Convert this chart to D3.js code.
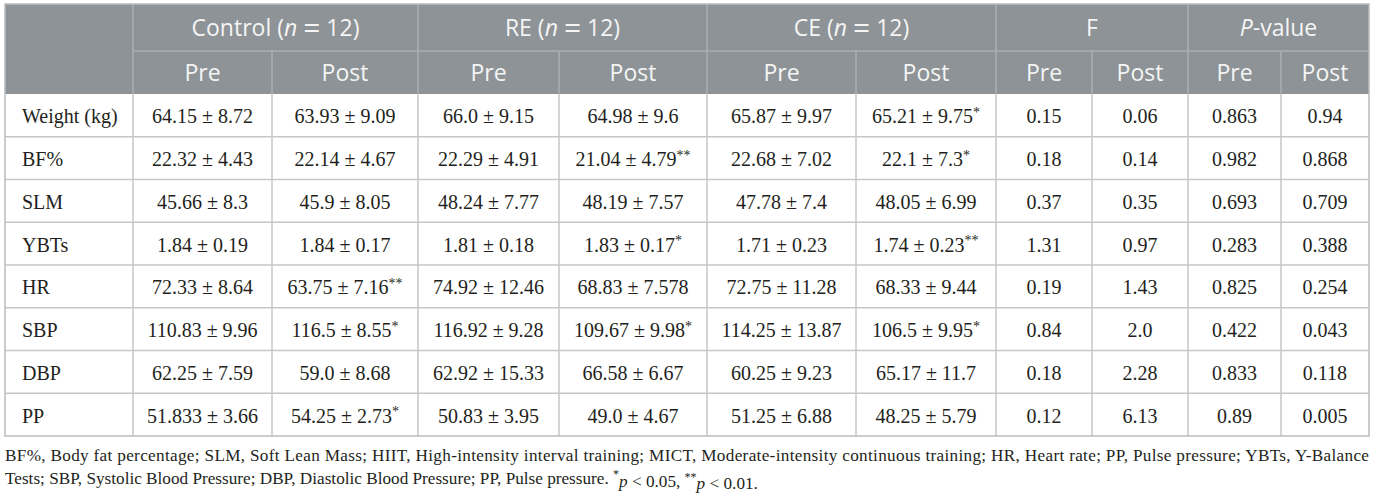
<!DOCTYPE html>
<html>
<head>
<meta charset="utf-8">
<script src="https://cdn.jsdelivr.net/npm/d3@7.9.0/dist/d3.min.js"></script>
<style>
  body { margin: 0; background: #fff; }
  svg { display: block; }
</style>
</head>
<body>
<div id="table"></div>
<script>
// --- Data ---
const rowLabels = ["Weight (kg)", "BF%", "SLM", "YBTs", "HR", "SBP", "DBP", "PP"];

const groups = [
  { label: "Control", n: 12 },
  { label: "RE", n: 12 },
  { label: "CE", n: 12 },
  { label: "F" },
  { label: "P-value" }
];
const subLabels = ["Pre", "Post"];

const controlPre  = ["64.15 ± 8.72", "22.32 ± 4.43", "45.66 ± 8.3", "1.84 ± 0.19", "72.33 ± 8.64", "110.83 ± 9.96", "62.25 ± 7.59", "51.833 ± 3.66"];
const controlPost = ["63.93 ± 9.09", "22.14 ± 4.67", "45.9 ± 8.05", "1.84 ± 0.17", "63.75 ± 7.16**", "116.5 ± 8.55*", "59.0 ± 8.68", "54.25 ± 2.73*"];
const rePre       = ["66.0 ± 9.15", "22.29 ± 4.91", "48.24 ± 7.77", "1.81 ± 0.18", "74.92 ± 12.46", "116.92 ± 9.28", "62.92 ± 15.33", "50.83 ± 3.95"];
const rePost      = ["64.98 ± 9.6", "21.04 ± 4.79**", "48.19 ± 7.57", "1.83 ± 0.17*", "68.83 ± 7.578", "109.67 ± 9.98*", "66.58 ± 6.67", "49.0 ± 4.67"];
const cePre       = ["65.87 ± 9.97", "22.68 ± 7.02", "47.78 ± 7.4", "1.71 ± 0.23", "72.75 ± 11.28", "114.25 ± 13.87", "60.25 ± 9.23", "51.25 ± 6.88"];
const cePost      = ["65.21 ± 9.75*", "22.1 ± 7.3*", "48.05 ± 6.99", "1.74 ± 0.23**", "68.33 ± 9.44", "106.5 ± 9.95*", "65.17 ± 11.7", "48.25 ± 5.79"];
const fPre        = ["0.15", "0.18", "0.37", "1.31", "0.19", "0.84", "0.18", "0.12"];
const fPost       = ["0.06", "0.14", "0.35", "0.97", "1.43", "2.0", "2.28", "6.13"];
const pPre        = ["0.863", "0.982", "0.693", "0.283", "0.825", "0.422", "0.833", "0.89"];
const pPost       = ["0.94", "0.868", "0.709", "0.388", "0.254", "0.043", "0.118", "0.005"];

const columns = [controlPre, controlPost, rePre, rePost, cePre, cePost, fPre, fPost, pPre, pPost];

const footLine1 = "BF%, Body fat percentage; SLM, Soft Lean Mass; HIIT, High-intensity interval training; MICT, Moderate-intensity continuous training; HR, Heart rate; PP, Pulse pressure; YBTs, Y-Balance";
const footLine2 = "Tests; SBP, Systolic Blood Pressure; DBP, Diastolic Blood Pressure; PP, Pulse pressure.";

// --- Layout ---
const W = 1375, H = 494;
const colWidths = [128, 139, 146, 141, 148, 149, 140, 96, 96, 93, 88];
const X0 = 5, Y0 = 4;
const headRow1 = 47, headRow2 = 43;
const bodyTop = Y0 + headRow1 + headRow2;
const bodyBottom = 436;

const HEAD_BG = "#8d9396";
const HEAD_LINE = "#abb0b2";
const BODY_LINE = "#c6c6c6";
const TEXT = "#231f20";
const HEAD_FONT = "'Open Sans', 'Noto Sans', sans-serif";
const BODY_FONT = "'Liberation Serif', 'Times New Roman', serif";

const edges = d3.cumsum([X0, ...colWidths]);
const X1 = edges[edges.length - 1];

const y = d3.scaleBand().domain(rowLabels).range([bodyTop, bodyBottom]);

const svg = d3.select("#table").append("svg").attr("width", W).attr("height", H);

// header background
svg.append("rect")
  .attr("x", X0).attr("y", Y0)
  .attr("width", X1 - X0).attr("height", headRow1 + headRow2)
  .attr("fill", HEAD_BG);

// header lines
const groupEdges = [1, 3, 5, 7, 9].map(i => edges[i]);
const subEdges = [2, 4, 6, 8, 10].map(i => edges[i]);
svg.append("g").selectAll("line").data(groupEdges).join("line")
  .attr("x1", d => d).attr("x2", d => d)
  .attr("y1", Y0).attr("y2", bodyTop)
  .attr("stroke", HEAD_LINE).attr("stroke-width", 1.5);
svg.append("g").selectAll("line").data(subEdges).join("line")
  .attr("x1", d => d).attr("x2", d => d)
  .attr("y1", Y0 + headRow1).attr("y2", bodyTop)
  .attr("stroke", HEAD_LINE).attr("stroke-width", 1.5);
svg.append("line")
  .attr("x1", edges[1]).attr("x2", X1)
  .attr("y1", Y0 + headRow1).attr("y2", Y0 + headRow1)
  .attr("stroke", HEAD_LINE).attr("stroke-width", 1.5);

// header group labels
const g1 = svg.append("g")
  .attr("font-family", HEAD_FONT).attr("font-size", 23).attr("fill", "#f5f5f5")
  .attr("text-anchor", "middle");
groups.forEach((g, i) => {
  const cx = (edges[1 + i * 2] + edges[3 + i * 2]) / 2;
  const t = g1.append("text").attr("x", cx).attr("y", Y0 + headRow1 / 2).attr("dy", "0.36em");
  if (g.n !== undefined) {
    t.append("tspan").text(g.label + " (");
    t.append("tspan").attr("font-style", "italic").text("n");
    t.append("tspan").text(" ");
    // wide math-style equals sign
    t.append("tspan").attr("font-size", 30).attr("dy", 2.5).text("=");
    t.append("tspan").attr("dy", -2.5).text(" " + g.n + ")");
  } else if (g.label === "P-value") {
    t.append("tspan").attr("font-style", "italic").text("P");
    t.append("tspan").text("-value");
  } else {
    t.text(g.label);
  }
});
// header sub labels
const subs = d3.range(10).map(i => ({ i, label: subLabels[i % 2] }));
g1.selectAll("text.sub").data(subs).join("text")
  .attr("class", "sub")
  .attr("x", d => (edges[d.i + 1] + edges[d.i + 2]) / 2)
  .attr("y", Y0 + headRow1 + headRow2 / 2)
  .attr("dy", "0.36em")
  .text(d => d.label);

// body lines
svg.append("g").selectAll("line").data(rowLabels.slice(1)).join("line")
  .attr("x1", X0).attr("x2", X1)
  .attr("y1", d => y(d)).attr("y2", d => y(d))
  .attr("stroke", BODY_LINE).attr("stroke-width", 1.5);
svg.append("g").selectAll("line").data(edges.slice(1, -1)).join("line")
  .attr("x1", d => d).attr("x2", d => d)
  .attr("y1", bodyTop).attr("y2", bodyBottom)
  .attr("stroke", BODY_LINE).attr("stroke-width", 1.5);
// outer border
svg.append("rect")
  .attr("x", X0).attr("y", Y0)
  .attr("width", X1 - X0).attr("height", bodyBottom - Y0)
  .attr("fill", "none").attr("stroke", "#b9bcbe").attr("stroke-width", 1.5);

// body text
const body = svg.append("g")
  .attr("font-family", BODY_FONT).attr("font-size", 20).attr("fill", TEXT);

body.selectAll("text.label").data(rowLabels).join("text")
  .attr("class", "label")
  .attr("x", X0 + 17)
  .attr("y", d => y(d) + y.bandwidth() / 2)
  .attr("dy", "0.4em")
  .text(d => d);

const cells = columns.flatMap((col, ci) => col.map((v, ri) => ({ ci, ri, v })));
const cellText = body.selectAll("text.cell").data(cells).join("text")
  .attr("class", "cell")
  .attr("text-anchor", "middle")
  .attr("x", d => (edges[d.ci + 1] + edges[d.ci + 2]) / 2)
  .attr("y", d => y(rowLabels[d.ri]) + y.bandwidth() / 2)
  .attr("dy", "0.4em");
cellText.each(function (d) {
  const m = d.v.match(/^(.*?)(\**)$/);
  const t = d3.select(this);
  t.append("tspan").text(m[1]);
  if (m[2]) {
    t.append("tspan").attr("font-size", 14).attr("dy", "-0.45em").text(m[2]);
  }
});

// footnote
const foot = svg.append("g")
  .attr("font-family", BODY_FONT).attr("font-size", 17.2).attr("fill", TEXT);
foot.append("text")
  .attr("x", X0).attr("y", 455).attr("dy", "0.35em")
  .attr("textLength", X1 - X0).attr("lengthAdjust", "spacing")
  .text(footLine1);
const f2 = foot.append("text").attr("x", X0).attr("y", 478).attr("dy", "0.35em");
f2.append("tspan").text(footLine2 + " ");
f2.append("tspan").attr("font-size", 12).attr("dy", "-0.5em").text("*");
f2.append("tspan").attr("font-style", "italic").attr("dy", "0.5em").text("p");
f2.append("tspan").text(" < 0.05, ");
f2.append("tspan").attr("font-size", 12).attr("dy", "-0.5em").text("**");
f2.append("tspan").attr("font-style", "italic").attr("dy", "0.5em").text("p");
f2.append("tspan").text(" < 0.01.");
</script>
</body>
</html>
